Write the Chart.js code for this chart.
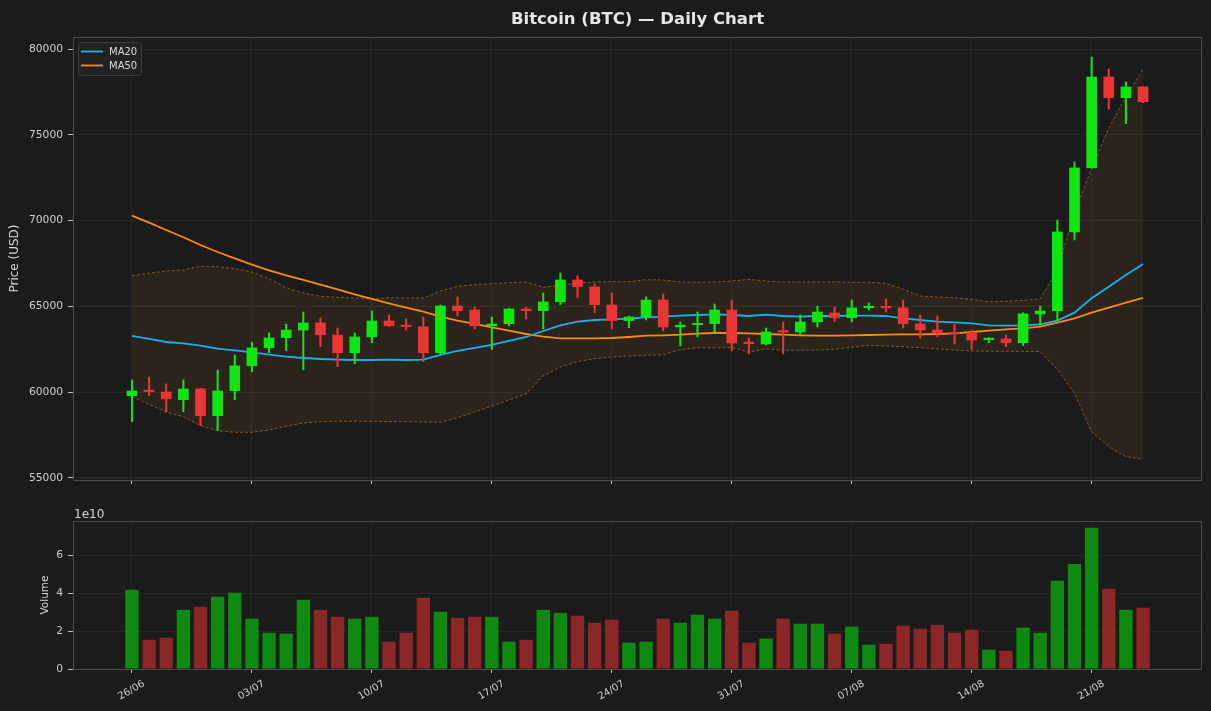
<!DOCTYPE html>
<html>
<head>
<meta charset="utf-8">
<title>Bitcoin (BTC) — Daily Chart</title>
<script src="https://cdn.jsdelivr.net/npm/chart.js@4.4.1/dist/chart.umd.min.js"></script>
<style>
  html, body { margin: 0; padding: 0; background: #1b1b1b; }
  #wrap { position: relative; width: 1211px; height: 711px; }
  #priceBox { position: absolute; left: 0; top: 0; width: 1211px; height: 492px; }
  #volBox { position: absolute; left: 0; top: 490px; width: 1211px; height: 221px; }
</style>
</head>
<body>
<div id="wrap">
  <div id="priceBox"><canvas id="priceChart"></canvas></div>
  <div id="volBox"><canvas id="volChart"></canvas></div>
</div>
<script>
// axis ticks
const tickDays = [0, 7, 14, 21, 28, 35, 42, 49, 56];
const tickLabels = ['26/06', '03/07', '10/07', '17/07', '24/07', '31/07', '07/08', '14/08', '21/08'];
const priceTicks = [55000, 60000, 65000, 70000, 75000, 80000];
const volumeTicks = [0, 2e10, 4e10, 6e10];

// daily OHLC, 26/06 -> 24/08
const opens = [59795, 60070, 60010, 59560, 60190, 58630, 60090, 61540, 62590, 63180,
  63620, 64030, 63330, 62300, 63230, 64150, 63860, 63800, 62300, 65020,
  64790, 63870, 63990, 64850, 64750, 65270, 66540, 66130, 65080, 64170,
  64380, 65370, 63800, 63930, 63990, 64790, 62880, 62810, 63540, 63510,
  64090, 64610, 64340, 64920, 64960, 64910, 63970, 63620, 63430, 63470,
  63060, 63100, 62880, 64560, 64750, 69340, 73070, 78370, 77160, 77790];
const highs = [60710, 60880, 60480, 60710, 60230, 61290, 62170, 62920, 63450, 63970,
  64670, 64320, 63740, 63450, 64730, 64500, 64270, 64380, 65080, 65550,
  64960, 64380, 64870, 64960, 65780, 66950, 66770, 66300, 65780, 64440,
  65550, 65720, 64090, 64670, 65140, 65370, 63160, 63740, 64090, 64500,
  65020, 64960, 65370, 65200, 65430, 65370, 64500, 64440, 63970, 63620,
  63180, 63330, 64630, 65020, 70030, 73420, 79530, 78840, 78080, 77800];
const lows = [58280, 59800, 58850, 58860, 58050, 57760, 59560, 61190, 62300, 62420,
  61310, 62650, 61490, 61660, 62880, 63820, 63620, 61780, 62240, 64460,
  63680, 62480, 63870, 64270, 63680, 65100, 65510, 64630, 63700, 63760,
  64210, 63570, 62690, 63220, 63510, 62400, 62230, 62750, 62230, 63370,
  63800, 64110, 64090, 64790, 64670, 63740, 63160, 63230, 62810, 62500,
  62880, 62650, 62710, 63920, 64170, 68870, 73070, 76500, 75650, 76870];
const closes = [60070, 60030, 59620, 60190, 58630, 60070, 61530, 62580, 63160, 63620,
  64030, 63350, 62300, 63220, 64150, 63870, 63820, 62300, 65020, 64750,
  63870, 63970, 64850, 64750, 65260, 66540, 66150, 65100, 64170, 64380,
  65370, 63800, 63900, 63990, 64790, 62870, 62830, 63510, 63500, 64090,
  64670, 64340, 64910, 64960, 64920, 63990, 63620, 63430, 63400, 63040,
  63120, 62880, 64560, 64730, 69340, 73070, 78370, 77160, 77790, 76930];

// indicators
const ma20 = [63274, 63099, 62924, 62848, 62709, 62534, 62441, 62324, 62184, 62068,
  61992, 61933, 61893, 61875, 61875, 61893, 61875, 61893, 62167, 62400,
  62575, 62749, 62983, 63216, 63565, 63897, 64107, 64206, 64247, 64282,
  64364, 64399, 64457, 64498, 64539, 64498, 64440, 64515, 64440, 64399,
  64440, 64440, 64457, 64457, 64440, 64305, 64206, 64107, 64072, 64014,
  63897, 63874, 63897, 63956, 64166, 64632, 65471, 66147, 66829, 67470];
const ma50 = [70285, 69877, 69452, 69026, 68577, 68169, 67802, 67429, 67103, 66811,
  66538, 66264, 65996, 65704, 65430, 65180, 64923, 64690, 64399, 64166,
  63973, 63781, 63583, 63390, 63233, 63140, 63140, 63140, 63157, 63216,
  63291, 63315, 63350, 63408, 63449, 63449, 63431, 63390, 63350, 63315,
  63291, 63291, 63315, 63332, 63350, 63373, 63373, 63390, 63431, 63507,
  63583, 63665, 63723, 63816, 64049, 64305, 64632, 64923, 65215, 65489];
const bbUpper = [66788, 66928, 67062, 67120, 67336, 67313, 67196, 67004, 66613, 66089,
  65780, 65588, 65529, 65489, 65448, 65506, 65489, 65489, 65897, 66170,
  66264, 66322, 66380, 66421, 66112, 66229, 66380, 66421, 66439, 66439,
  66555, 66538, 66421, 66404, 66421, 66479, 66578, 66479, 66421, 66421,
  66421, 66421, 66404, 66404, 66345, 65996, 65605, 65547, 65506, 65413,
  65273, 65296, 65355, 65430, 67120, 70425, 73048, 75379, 77220, 78817];
const bbLower = [59736, 59293, 58827, 58571, 58046, 57755, 57661, 57661, 57796, 58011,
  58204, 58279, 58303, 58303, 58303, 58279, 58279, 58262, 58244, 58513,
  58845, 59194, 59544, 59894, 60960, 61467, 61776, 61951, 62050, 62108,
  62149, 62184, 62476, 62592, 62575, 62615, 62324, 62534, 62441, 62441,
  62458, 62499, 62615, 62732, 62691, 62650, 62592, 62516, 62458, 62400,
  62382, 62382, 62382, 62359, 61333, 59934, 57696, 56822, 56240, 56088];

const volumes = [4.18e10, 1.54e10, 1.65e10, 3.12e10, 3.28e10, 3.81e10, 4.02e10, 2.65e10, 1.91e10, 1.86e10,
  3.65e10, 3.12e10, 2.75e10, 2.65e10, 2.75e10, 1.44e10, 1.91e10, 3.75e10, 3.02e10, 2.70e10,
  2.75e10, 2.75e10, 1.44e10, 1.54e10, 3.12e10, 2.96e10, 2.81e10, 2.44e10, 2.60e10, 1.39e10,
  1.44e10, 2.65e10, 2.44e10, 2.86e10, 2.65e10, 3.07e10, 1.39e10, 1.60e10, 2.65e10, 2.39e10,
  2.39e10, 1.86e10, 2.23e10, 1.28e10, 1.33e10, 2.28e10, 2.12e10, 2.33e10, 1.91e10, 2.07e10,
  1.02e10, 0.96e10, 2.18e10, 1.91e10, 4.65e10, 5.54e10, 7.44e10, 4.23e10, 3.12e10, 3.23e10];

const FONT = "'DejaVu Sans', sans-serif";
Chart.defaults.font.family = FONT;
Chart.defaults.color = '#cfcfcf';

const up = closes.map((c, i) => c >= opens[i]);
const candleColors = up.map(u => u ? '#0ee60e' : '#ee3535');
const volColors = up.map(u => u ? '#0e8a0e' : '#8b2727');
const xy = arr => arr.map((v, i) => ({ x: i, y: v }));

const gridColor = 'rgba(255,255,255,0.055)';
const spineColor = '#4c4c4c';

// x axis shared setup
function xAxis(showLabels, height) {
  return {
    type: 'linear',
    min: -3.44,
    max: 62.44,
    offset: false,
    grid: { color: gridColor, offset: false, tickColor: '#bdbdbd', tickLength: 4 },
    border: { display: false },
    afterBuildTicks: s => { s.ticks = tickDays.map(v => ({ value: v })); },
    afterFit: s => { s.height = height; },
    ticks: {
      autoSkip: false,
      minRotation: showLabels ? 30 : 0,
      maxRotation: showLabels ? 30 : 0,
      labelOffset: showLabels ? 12 : 0,
      padding: 5,
      color: '#cfcfcf',
      font: { size: 10 },
      callback: (v, i) => showLabels ? tickLabels[i] : ''
    }
  };
}

const frame = {
  id: 'frame',
  afterDatasetsDraw(chart) {
    const { ctx, chartArea: a } = chart;
    ctx.save();
    ctx.strokeStyle = spineColor;
    ctx.lineWidth = 1;
    ctx.strokeRect(a.left + 0.5, a.top + 0.5, a.right - a.left - 1, a.bottom - a.top);
    ctx.restore();
  }
};

const titleAndLegend = {
  id: 'titleAndLegend',
  afterDraw(chart) {
    const { ctx, chartArea: a } = chart;
    ctx.save();
    ctx.fillStyle = '#e6e6e6';
    ctx.font = 'bold 16.5px ' + FONT;
    ctx.textAlign = 'center';
    ctx.textBaseline = 'alphabetic';
    ctx.fillText('Bitcoin (BTC) — Daily Chart', (a.left + a.right) / 2, 24);

    // legend box
    const bx = a.left + 5, by = a.top + 5;
    ctx.beginPath();
    ctx.roundRect(bx + 0.5, by + 0.5, 63, 33, 3);
    ctx.fillStyle = 'rgba(36,36,36,0.9)';
    ctx.fill();
    ctx.strokeStyle = '#3d3d3d';
    ctx.stroke();
    const items = [['MA20', '#12b5ea'], ['MA50', '#ff8c00']];
    ctx.font = '10px ' + FONT;
    ctx.textAlign = 'left';
    ctx.textBaseline = 'middle';
    items.forEach(([name, col], k) => {
      const y = by + 9.5 + k * 14;
      ctx.strokeStyle = col;
      ctx.lineWidth = 1.8;
      ctx.beginPath();
      ctx.moveTo(bx + 3, y);
      ctx.lineTo(bx + 25, y);
      ctx.stroke();
      ctx.fillStyle = '#dcdcdc';
      ctx.fillText(name, bx + 31, y + 0.5);
    });
    ctx.restore();
  }
};

new Chart(document.getElementById('priceChart'), {
  type: 'bar',
  data: {
    datasets: [
      {
        type: 'bar', label: 'Body',
        data: opens.map((o, i) => ({ x: i, y: [o, closes[i]] })),
        backgroundColor: candleColors,
        barThickness: 10, minBarLength: 1.5, grouped: false, order: 0
      },
      {
        type: 'bar', label: 'Wick',
        data: lows.map((l, i) => ({ x: i, y: [l, highs[i]] })),
        backgroundColor: candleColors,
        barThickness: 1.4, grouped: false, order: 1
      },
      {
        type: 'line', label: 'MA20', data: xy(ma20),
        borderColor: '#12b5ea', borderWidth: 1.8, pointRadius: 0, order: 2
      },
      {
        type: 'line', label: 'MA50', data: xy(ma50),
        borderColor: '#ff8c00', borderWidth: 1.8, pointRadius: 0, order: 2
      },
      {
        type: 'line', label: 'BB Upper', data: xy(bbUpper),
        borderColor: 'rgba(205,125,35,0.6)', borderWidth: 1, borderDash: [3, 2],
        pointRadius: 0, fill: false, order: 3
      },
      {
        type: 'line', label: 'BB Lower', data: xy(bbLower),
        borderColor: 'rgba(205,125,35,0.6)', borderWidth: 1, borderDash: [3, 2],
        pointRadius: 0, fill: '-1', backgroundColor: 'rgba(255,150,60,0.07)', order: 3
      }
    ]
  },
  plugins: [frame, titleAndLegend],
  options: {
    responsive: true,
    maintainAspectRatio: false,
    animation: false,
    events: [],
    layout: { padding: { top: 37, right: 9, left: 0, bottom: 0 } },
    plugins: { legend: { display: false }, tooltip: { enabled: false } },
    scales: {
      x: xAxis(false, 12),
      y: {
        min: 54880,
        max: 80700,
        grid: { color: gridColor, tickColor: '#bdbdbd', tickLength: 5 },
        border: { display: false },
        afterBuildTicks: s => { s.ticks = priceTicks.map(v => ({ value: v })); },
        afterFit: s => { s.width = 73; },
        ticks: { padding: 5, font: { size: 10.7 }, color: '#cfcfcf', callback: v => String(v) },
        title: { display: true, text: 'Price (USD)', color: '#d6d6d6', font: { size: 12 }, padding: { top: 8, bottom: 0 } }
      }
    }
  }
});

const exponentLabel = {
  id: 'exponentLabel',
  afterDraw(chart) {
    const { ctx, chartArea: a } = chart;
    ctx.save();
    ctx.fillStyle = '#d6d6d6';
    ctx.font = '12px ' + FONT;
    ctx.textAlign = 'left';
    ctx.textBaseline = 'alphabetic';
    ctx.fillText('1e10', a.left + 1, a.top - 3);
    ctx.restore();
  }
};

new Chart(document.getElementById('volChart'), {
  type: 'bar',
  data: {
    datasets: [{
      label: 'Volume',
      data: xy(volumes),
      backgroundColor: volColors,
      categoryPercentage: 1,
      barPercentage: 0.78
    }]
  },
  plugins: [frame, exponentLabel],
  options: {
    responsive: true,
    maintainAspectRatio: false,
    animation: false,
    events: [],
    layout: { padding: { top: 31, right: 9, left: 0, bottom: 0 } },
    plugins: { legend: { display: false }, tooltip: { enabled: false } },
    scales: {
      x: xAxis(true, 42),
      y: {
        min: 0,
        max: 7.8e10,
        grid: { color: gridColor, tickColor: '#bdbdbd', tickLength: 5 },
        border: { display: false },
        afterBuildTicks: s => { s.ticks = volumeTicks.map(v => ({ value: v })); },
        afterFit: s => { s.width = 73; },
        ticks: { padding: 5, font: { size: 10.7 }, color: '#cfcfcf', callback: v => String(v / 1e10) },
        title: { display: true, text: 'Volume', color: '#d6d6d6', font: { size: 10.5 }, padding: { top: 39, bottom: 0 } }
      }
    }
  }
});
</script>
</body>
</html>
